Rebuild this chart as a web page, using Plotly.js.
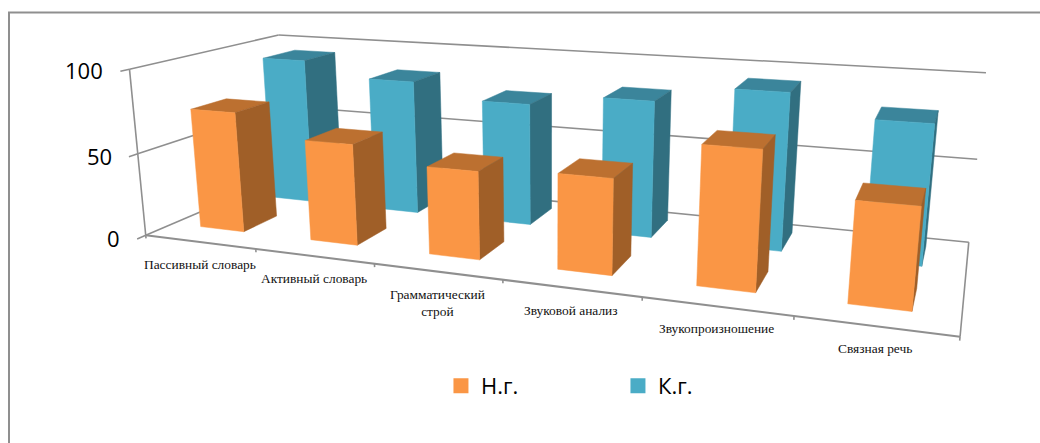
<!DOCTYPE html>
<html><head><meta charset="utf-8">
<script src="https://cdn.plot.ly/plotly-3.0.1.min.js"></script>
<style>html,body{margin:0;padding:0;background:#fff}</style></head>
<body><div id="chart" style="width:1040px;height:443px"></div>
<script>
const categories = ["Пассивный словарь","Активный словарь","Грамматический<br>строй","Звуковой анализ","Звукопроизношение","Связная речь"];
const seriesNames = ["Н.г.","К.г."];
const ngValues = [73,60,51,54,76,54];
const kgValues = [93,84,75,82,92,80];
const valueTicks = [0,50,100];
const valueMax = 100;

// Calibration of the 3D box: (u, depth, height) -> view position
const calib = [
 [0,0,0,146,235],[1,0,0,960,337],[1,1,0,969,242],[0,1,0,287,175],
 [0,0,1,129,69],[0,1,1,279,35],[1,1,1,986,73],[0,0,.5,138,154],[1,1,.5,977,159]];
function solveProjection(pts){
  const A=[],b=[];
  pts.forEach(([X,Y,Z,x,y])=>{
    A.push([X,Y,Z,1,0,0,0,0,-x*X,-x*Y,-x*Z]);b.push(x);
    A.push([0,0,0,0,X,Y,Z,1,-y*X,-y*Y,-y*Z]);b.push(y);
  });
  const n=11,M=[];
  for(let r=0;r<n;r++){M[r]=[];for(let c=0;c<n;c++){let s=0;A.forEach(a=>s+=a[r]*a[c]);M[r][c]=s;}
    let s=0;A.forEach((a,i)=>s+=a[r]*b[i]);M[r][n]=s;}
  for(let c=0;c<n;c++){let p=c;for(let r=c+1;r<n;r++)if(Math.abs(M[r][c])>Math.abs(M[p][c]))p=r;
    [M[c],M[p]]=[M[p],M[c]];
    for(let r=0;r<n;r++)if(r!==c){const f=M[r][c]/M[c][c];for(let k=c;k<=n;k++)M[r][k]-=f*M[c][k];}}
  return M.map((row,i)=>row[n]/row[i]);
}
const P=solveProjection(calib);
function proj(u,v,w){
  const d=P[8]*u+P[9]*v+P[10]*w+1;
  return [(P[0]*u+P[1]*v+P[2]*w+P[3])/d,(P[4]*u+P[5]*v+P[6]*w+P[7])/d];
}
const N=categories.length;
const traces=[];
function poly(pts,color,name){
  const q=pts.map(p=>proj(...p));q.push(q[0]);
  traces.push({type:'scatter',mode:'lines',x:q.map(a=>a[0]),y:q.map(a=>a[1]),fill:'toself',fillcolor:color,
    line:{width:0.5,color:color},showlegend:false,hoverinfo:'skip',name});
}
function seg(a,b,color,width){
  const q=[proj(...a),proj(...b)];
  traces.push({type:'scatter',mode:'lines',x:q.map(p=>p[0]),y:q.map(p=>p[1]),line:{color:color||'#8f8f8f',width:width||1.6},showlegend:false,hoverinfo:'skip'});
}
// walls / grid
valueTicks.forEach(t=>{
  const w=t/valueMax;
  seg([0,0,w],[0,1,w]);
  seg([0,1,w],[1,1,w]);
  seg([0,-.05,w],[0,0,w]);
});
seg([0,0,0],[0,0,1]);
seg([0,0,0],[1,0,0],null,2);
seg([1,0,0],[1,1,0]);
for(let n=0;n<=N;n++) seg([n/N,0,0],[n/N,0,-.02]);
function bar(u0,u1,h,v0,v1,front,side,top,name){
  const w=h/valueMax;
  poly([[u0,v0,w],[u1,v0,w],[u1,v1,w],[u0,v1,w]],top,name);
  poly([[u1,v0,0],[u1,v1,0],[u1,v1,w],[u1,v0,w]],side,name);
  poly([[u0,v0,0],[u1,v0,0],[u1,v0,w],[u0,v0,w]],front,name);
}
const cols=[{f:'#FA9645',s:'#A05F28',t:'#BC7030'},{f:'#4AACC6',s:'#316F80',t:'#3B859B'}];
for(let n=N-1;n>=0;n--) bar((n+.30)/N,(n+.70)/N,kgValues[n],.645,.89,cols[1].f,cols[1].s,cols[1].t,seriesNames[1]);
for(let n=N-1;n>=0;n--) bar((n+.275)/N*1.007-.003,(n+.675)/N*1.007-.003,ngValues[n],.17,.40,cols[0].f,cols[0].s,cols[0].t,seriesNames[0]);
// legend entries
seriesNames.forEach((s,i)=>traces.push({type:'scatter',mode:'markers',x:[null],y:[null],name:s,showlegend:true,
  marker:{symbol:'square',size:15,color:cols[i].f}}));

const annotations=[];
valueTicks.forEach(t=>{const p=proj(0,-.05,t/valueMax);
  annotations.push({x:p[0],y:p[1],xref:'x',yref:'y',text:String(t),showarrow:false,xanchor:'right',yanchor:'middle',xshift:-15,yshift:1,
    font:{family:'Open Sans',size:22,color:'#000'}});});
categories.forEach((c,n)=>{const p=proj((n+.5)/N,0,0);
  annotations.push({x:p[0],y:p[1],xref:'x',yref:'y',text:c,showarrow:false,xanchor:'center',yanchor:'top',yshift:-13,
    font:{family:'Liberation Serif',size:13.4,color:'#111'}});});

const layout={width:1040,height:443,margin:{l:0,r:0,t:0,b:0},paper_bgcolor:'#fff',plot_bgcolor:'#fff',
 xaxis:{range:[0,1040],visible:false,fixedrange:true},
 yaxis:{range:[443,0],visible:false,fixedrange:true},
 showlegend:true,
 legend:{orientation:'h',x:0.424,y:0.129,xanchor:'left',yanchor:'middle',entrywidth:132,entrywidthmode:'pixels',font:{family:'Open Sans',size:22,color:'#000'},bgcolor:'rgba(0,0,0,0)',itemclick:false,itemdoubleclick:false},
 shapes:[{type:'rect',xref:'x',yref:'y',x0:9,x1:1060,y0:12.5,y1:470,line:{color:'#8f8f8f',width:2},layer:'below'}],
 annotations};
Plotly.newPlot('chart',traces,layout,{displayModeBar:false,staticPlot:true});
</script></body></html>
